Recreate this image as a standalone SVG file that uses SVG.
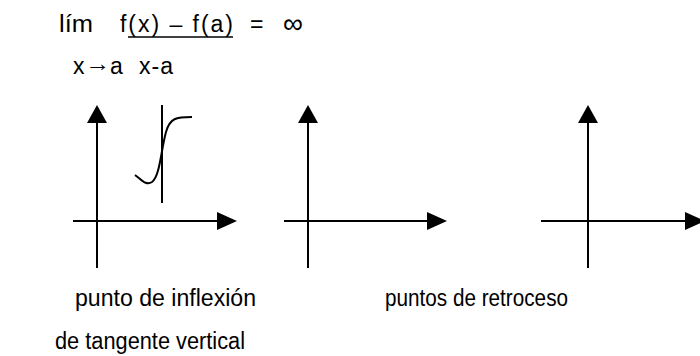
<svg xmlns="http://www.w3.org/2000/svg" width="700" height="356" viewBox="0 0 700 356">
<style>
text{font-family:"Liberation Sans",Arial,sans-serif;font-size:23px;fill:#000}
.ax{stroke:#000;stroke-width:2;fill:none}
.ah{fill:#000}
</style>
<rect width="700" height="356" fill="#fff"/>
<g id="formula">
<text x="59" y="32" textLength="34" lengthAdjust="spacingAndGlyphs">lím</text>
<text x="120" y="32" textLength="113" lengthAdjust="spacing">f(x) – f(a)</text>
<line x1="128" y1="37" x2="233" y2="37" stroke="#000" stroke-width="1.5"/>
<text x="250" y="32">=</text>
<text x="283" y="33" style="font-size:28px">∞</text>
<text x="73" y="74">x</text>
<text x="85" y="71" textLength="25" lengthAdjust="spacingAndGlyphs">→</text>
<text x="110" y="74">a</text>
<text x="139" y="74" letter-spacing="1">x-a</text>
</g>
<g id="graph1">
<line class="ax" x1="97" y1="118" x2="97" y2="268"/>
<polygon class="ah" points="97,105 87,123 107,123"/>
<line class="ax" x1="73" y1="221" x2="222" y2="221"/>
<polygon class="ah" points="237,221 217,212 217,230"/>
<line class="ax" x1="162" y1="105" x2="162" y2="203"/>
<path class="ax" d="M135,175 C142,180 146,186 152,182 C160,176 161,150 166,132 C170,118 176,117 192,117"/>
</g>
<g id="graph2">
<line class="ax" x1="308" y1="118" x2="308" y2="268"/>
<polygon class="ah" points="308,105 298,123 318,123"/>
<line class="ax" x1="284" y1="221" x2="432" y2="221"/>
<polygon class="ah" points="447,221 427,212 427,230"/>
</g>
<g id="graph3">
<line class="ax" x1="588" y1="118" x2="588" y2="268"/>
<polygon class="ah" points="588,105 578,123 598,123"/>
<line class="ax" x1="541" y1="221" x2="690" y2="221"/>
<polygon class="ah" points="705,221 685,212 685,230"/>
</g>
<g id="labels">
<text x="75" y="306" textLength="181" lengthAdjust="spacingAndGlyphs">punto de inflexión</text>
<text x="385" y="306" textLength="183" lengthAdjust="spacingAndGlyphs">puntos de retroceso</text>
<text x="55" y="349" textLength="190" lengthAdjust="spacingAndGlyphs">de tangente vertical</text>
</g>
</svg>
